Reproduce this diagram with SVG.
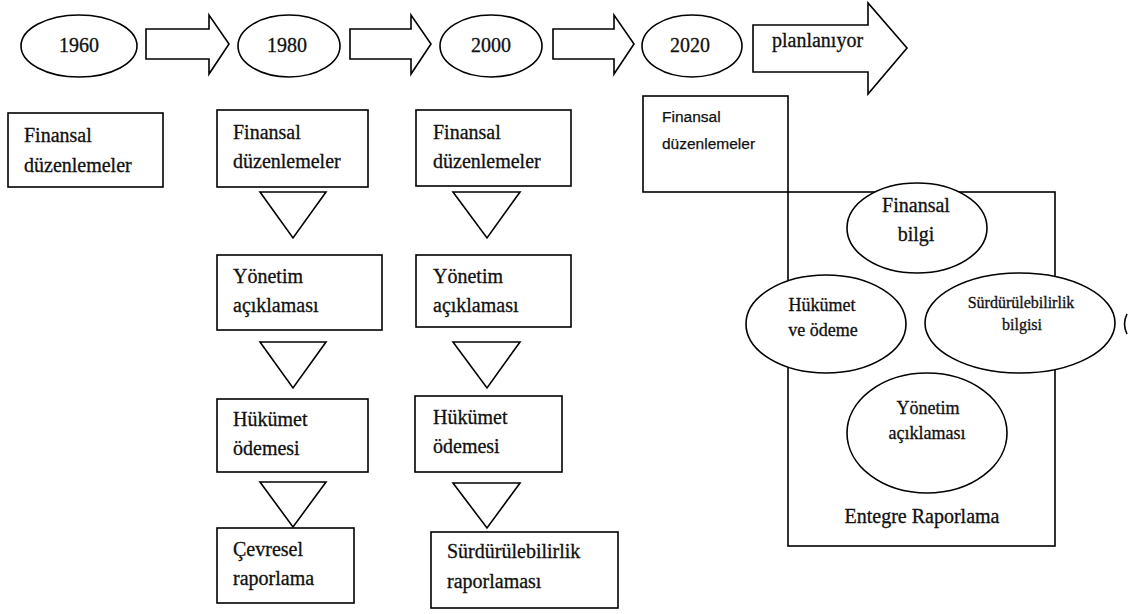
<svg xmlns="http://www.w3.org/2000/svg" width="1129" height="614" viewBox="0 0 1129 614">
<style>
.s{fill:#fff;stroke:#000;stroke-width:1.6}
.t{font-family:"Liberation Serif","Times New Roman",serif;font-size:20px;fill:#111;stroke:#111;stroke-width:0.3}
.c{text-anchor:middle}
.sans{font-family:"Liberation Sans",Arial,sans-serif;font-size:15.5px;fill:#111;stroke:#111;stroke-width:0.25}
</style>
<rect width="1129" height="614" fill="#fff"/>
<g id="timeline">
<g id="y1960"><ellipse class="s" cx="79" cy="46" rx="58" ry="31"/><text class="t c" x="79" y="52">1960</text></g>
<g id="y1980"><ellipse class="s" cx="289" cy="46" rx="51" ry="31"/><text class="t c" x="287" y="52">1980</text></g>
<g id="y2000"><ellipse class="s" cx="491" cy="46" rx="51" ry="31"/><text class="t c" x="491" y="52">2000</text></g>
<g id="y2020"><ellipse class="s" cx="692" cy="46" rx="50" ry="31"/><text class="t c" x="690" y="52">2020</text></g>
</g>
<g id="connectors">
<path class="s" d="M146,29 H209 V15 L229,44 L209,74 V59 H146 Z"/>
<path class="s" d="M350,29 H411 V15 L431,44 L411,74 V59 H350 Z"/>
<path class="s" d="M553,29 H614 V15 L634,44 L614,74 V59 H553 Z"/>
<path class="s" d="M260,192 H326 L293,238 Z"/>
<path class="s" d="M260,342 H326 L293,388 Z"/>
<path class="s" d="M260,482 H326 L293,527 Z"/>
<path class="s" d="M453,192 H520 L487,238 Z"/>
<path class="s" d="M453,342 H520 L487,388 Z"/>
<path class="s" d="M453,483 H520 L487,528 Z"/>
</g>
<g id="planlaniyor"><path class="s" d="M753,25 H868 V3 L907,48 L868,94 V72 H753 Z"/><text class="t" x="772" y="47">planlanıyor</text></g>
<g id="b1960"><rect class="s" x="8" y="113" width="155" height="74"/><text class="t" x="24" y="142">Finansal</text><text class="t" x="24" y="172">düzenlemeler</text></g>
<g id="b1980a"><rect class="s" x="217" y="110" width="151" height="77"/><text class="t" x="233" y="139">Finansal</text><text class="t" x="233" y="168">düzenlemeler</text></g>
<g id="b1980b"><rect class="s" x="217" y="255" width="165" height="75"/><text class="t" x="233" y="283">Yönetim</text><text class="t" x="233" y="312">açıklaması</text></g>
<g id="b1980c"><rect class="s" x="217" y="399" width="151" height="73"/><text class="t" x="233" y="426">Hükümet</text><text class="t" x="233" y="455">ödemesi</text></g>
<g id="b1980d"><rect class="s" x="217" y="528" width="137" height="75"/><text class="t" x="233" y="556">Çevresel</text><text class="t" x="233" y="585">raporlama</text></g>
<g id="b2000a"><rect class="s" x="416" y="110" width="155" height="76"/><text class="t" x="433" y="139">Finansal</text><text class="t" x="433" y="168">düzenlemeler</text></g>
<g id="b2000b"><rect class="s" x="416" y="255" width="155" height="72"/><text class="t" x="433" y="283">Yönetim</text><text class="t" x="433" y="312">açıklaması</text></g>
<g id="b2000c"><rect class="s" x="415" y="396" width="147" height="76"/><text class="t" x="433" y="424">Hükümet</text><text class="t" x="433" y="453">ödemesi</text></g>
<g id="b2000d"><rect class="s" x="431" y="532" width="187" height="76"/><text class="t" x="447" y="558">Sürdürülebilirlik</text><text class="t" x="447" y="588">raporlaması</text></g>
<g id="b2020"><rect class="s" x="643" y="96" width="145" height="96"/><text class="sans" x="662" y="122">Finansal</text><text class="sans" x="662" y="149">düzenlemeler</text></g>
<g id="entegre"><rect class="s" x="788" y="192" width="267" height="354"/><text class="t c" x="922" y="523">Entegre Raporlama</text></g>
<g id="e_finansal"><ellipse class="s" cx="917" cy="228" rx="70" ry="45"/><text class="t c" x="916" y="212">Finansal</text><text class="t c" x="916" y="241">bilgi</text></g>
<g id="e_hukumet"><ellipse class="s" cx="826" cy="324" rx="80" ry="49"/><text class="t c" x="822" y="311" style="font-size:18px">Hükümet</text><text class="t c" x="823" y="336" style="font-size:18px">ve ödeme</text></g>
<g id="e_surdur"><ellipse class="s" cx="1020" cy="323" rx="95" ry="50"/><text class="t c" x="1021" y="308" style="font-size:16px">Sürdürülebilirlik</text><text class="t c" x="1022" y="330" style="font-size:16px">bilgisi</text></g>
<g id="e_yonetim"><ellipse class="s" cx="927" cy="433" rx="80" ry="60"/><text class="t c" x="928" y="414" style="font-size:18px">Yönetim</text><text class="t c" x="927" y="439" style="font-size:18px">açıklaması</text></g>
<path d="M1127,314 Q1122,324 1127,334" fill="none" stroke="#000" stroke-width="1.6"/>
</svg>
